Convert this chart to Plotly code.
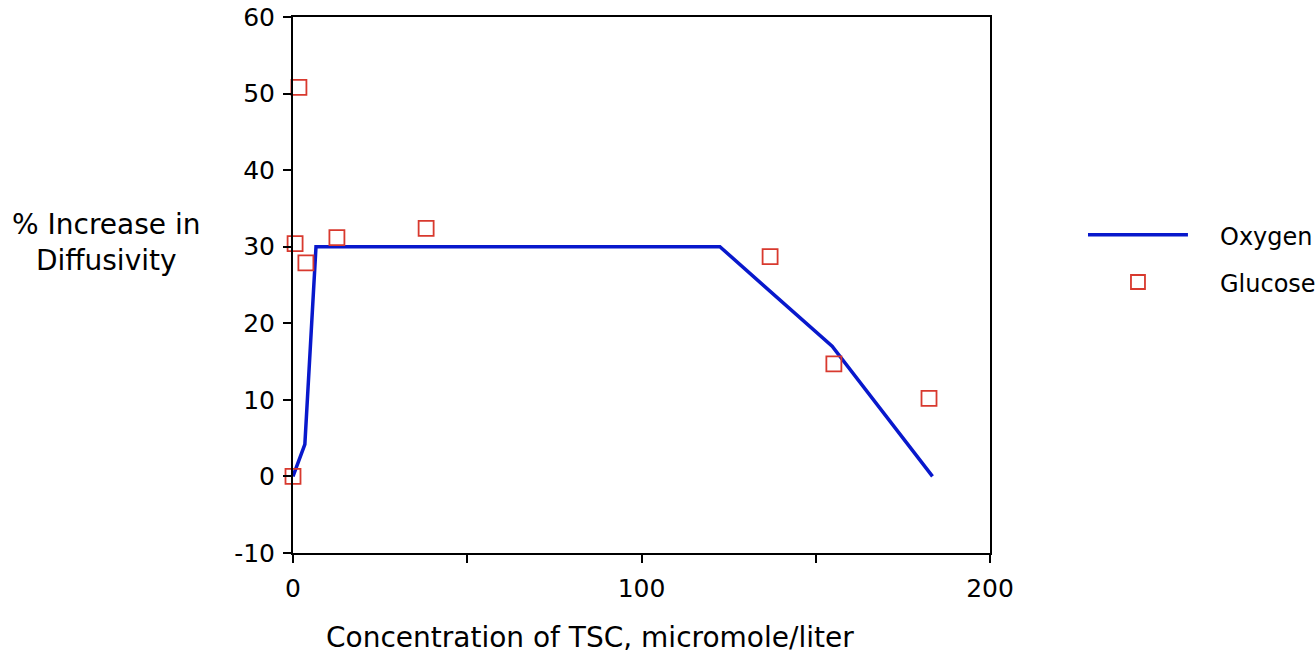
import plotly.graph_objects as go

oxygen_x = [0, 3.4, 6.6, 122.5, 154.7, 183.5]
oxygen_y = [0, 4.2, 30, 30, 17, 0]

glucose_x = [0, 0.6, 1.7, 3.7, 12.6, 38.2, 136.9, 155.2, 182.5]
glucose_y = [0, 30.4, 50.8, 27.9, 31.2, 32.4, 28.7, 14.7, 10.2]

x_ticks = [0, 50, 100, 150, 200]
x_tick_labels = ["0", "", "100", "", "200"]
y_ticks = [-10, 0, 10, 20, 30, 40, 50, 60]
y_tick_labels = ["-10", "0", "10", "20", "30", "40", "50", "60"]

LINE_COLOR = "#0818cc"
MARK_COLOR = "#d8392e"
FONT = "DejaVu Sans"

fig = go.Figure()
fig.add_trace(go.Scatter(x=oxygen_x, y=oxygen_y, mode="lines", name="Oxygen",
                         line=dict(color=LINE_COLOR, width=3.5), showlegend=False,
                         cliponaxis=False))
fig.add_trace(go.Scatter(x=glucose_x, y=glucose_y, mode="markers", name="Glucose",
                         marker=dict(symbol="square-open", size=15,
                                     color=MARK_COLOR, line=dict(width=1.8, color=MARK_COLOR)),
                         showlegend=False, cliponaxis=False))

axis_common = dict(showgrid=False, zeroline=False, showline=True, linecolor="black",
                   linewidth=2, mirror=True, ticks="outside", ticklen=8, tickwidth=2,
                   tickcolor="black", automargin=False,
                   tickfont=dict(family=FONT, size=25, color="black"))

fig.update_xaxes(range=[0, 200], tickvals=x_ticks, ticktext=x_tick_labels,
                 ticklabelstandoff=4, **axis_common)
fig.update_yaxes(range=[-10, 60], tickvals=y_ticks, ticktext=y_tick_labels,
                 ticklabelstandoff=3, **axis_common)

# Axis titles as annotations
fig.add_annotation(text="Concentration of TSC, micromole/liter", xref="paper", yref="paper",
                   x=0.426, y=-0.157, xanchor="center", yanchor="middle", showarrow=False,
                   font=dict(family=FONT, size=28, color="black"))
fig.add_annotation(text="% Increase in<br>Diffusivity", xref="paper", yref="paper",
                   x=-0.268, y=0.579, xanchor="center", yanchor="middle", showarrow=False,
                   align="center", font=dict(family=FONT, size=28, color="black"))

# Custom legend
fig.add_shape(type="line", xref="paper", yref="paper", x0=1.1406, x1=1.284, y0=0.5936, y1=0.5936,
              line=dict(color=LINE_COLOR, width=3.5))
fig.add_shape(type="rect", xref="paper", yref="paper", xsizemode="pixel", ysizemode="pixel",
              xanchor=1.2123, yanchor=0.5056, x0=-7, x1=7, y0=-7, y1=7,
              line=dict(color=MARK_COLOR, width=1.8), fillcolor="rgba(0,0,0,0)")
fig.add_annotation(text="Oxygen", xref="paper", yref="paper", x=1.327, y=0.589,
                   xanchor="left", yanchor="middle", showarrow=False,
                   font=dict(family=FONT, size=24, color="black"))
fig.add_annotation(text="Glucose", xref="paper", yref="paper", x=1.327, y=0.501,
                   xanchor="left", yanchor="middle", showarrow=False,
                   font=dict(family=FONT, size=24, color="black"))

fig.update_layout(
    width=1316, height=659,
    margin=dict(l=293, r=326, t=17, b=106, autoexpand=False),
    plot_bgcolor="white", paper_bgcolor="white",
)

fig.write_html("out.html", config={"displayModeBar": False},
               post_script="document.body.style.margin='0px';")
